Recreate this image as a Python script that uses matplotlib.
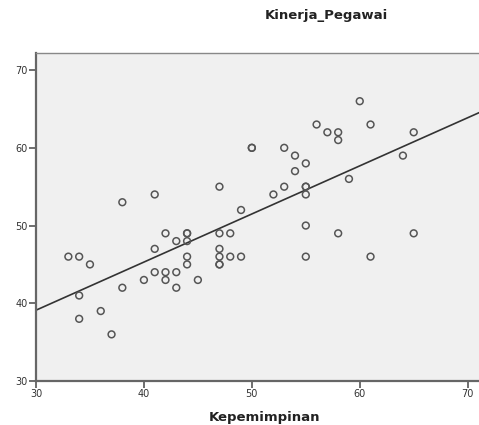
import numpy as np
import matplotlib.pyplot as plt

plt.switch_backend('Agg')

# Kepemimpinan (x) vs Kinerja_Pegawai (y)
kepemimpinan = [33, 34, 35, 34, 34, 36, 37, 38, 38, 40, 41, 41, 41, 42, 42, 42,
                43, 43, 43, 44, 44, 44, 44, 44, 45, 47, 47, 47, 47, 47, 47, 48,
                48, 49, 49, 50, 50, 52, 53, 53, 54, 54, 55, 55, 55, 55, 55, 55,
                56, 57, 58, 58, 58, 59, 60, 61, 61, 64, 65, 65]
kinerja = [46, 46, 45, 41, 38, 39, 36, 53, 42, 43, 54, 47, 44, 49, 44, 43,
           48, 44, 42, 49, 49, 48, 46, 45, 43, 55, 49, 47, 46, 45, 45, 49,
           46, 52, 46, 60, 60, 54, 60, 55, 59, 57, 58, 55, 55, 54, 50, 46,
           63, 62, 62, 61, 49, 56, 66, 63, 46, 59, 62, 49]
x_ticks = [30, 40, 50, 60, 70]
y_ticks = [30, 40, 50, 60, 70]

x = np.array(kepemimpinan, dtype=float)
y = np.array(kinerja, dtype=float)
slope, intercept = np.polyfit(x, y, 1)

fig = plt.figure(figsize=(4.79, 4.25), dpi=100)
ax = fig.add_axes([36 / 479, 44 / 425, 1 - 36 / 479, (381 - 53) / 425])
ax.set_facecolor('#f0f0f0')

xmin, xmax = 30, 71.05
ax.set_xlim(xmin, xmax)
ax.set_ylim(30, 72.2)

xl = np.array([xmin, xmax])
ax.plot(xl, slope * xl + intercept, color='#333333', lw=1.2, zorder=2)
ax.scatter(x, y, s=24, facecolors='none', edgecolors='#555555', linewidths=1.1, zorder=3)

ax.set_xticks(x_ticks)
ax.set_yticks(y_ticks)
ax.tick_params(direction='out', length=5, width=1.2, color='#555555',
               labelsize=7, labelcolor='#333333', pad=1)
for side in ['left', 'bottom']:
    ax.spines[side].set_color('#666666')
    ax.spines[side].set_linewidth(1.6)
ax.spines['top'].set_color('#888888')
ax.spines['top'].set_linewidth(1.0)
ax.spines['right'].set_visible(False)

fig.text(326 / 479, 1 - 15 / 425, 'Kinerja_Pegawai', ha='center', va='center',
         fontsize=9.5, fontweight='bold', family='DejaVu Sans', color='#222222')
fig.text(264 / 479, 1 - 417 / 425, 'Kepemimpinan', ha='center', va='center',
         fontsize=9.5, fontweight='bold', family='DejaVu Sans', color='#222222')

fig.savefig('out.png', dpi=100)
plt.close(fig)
